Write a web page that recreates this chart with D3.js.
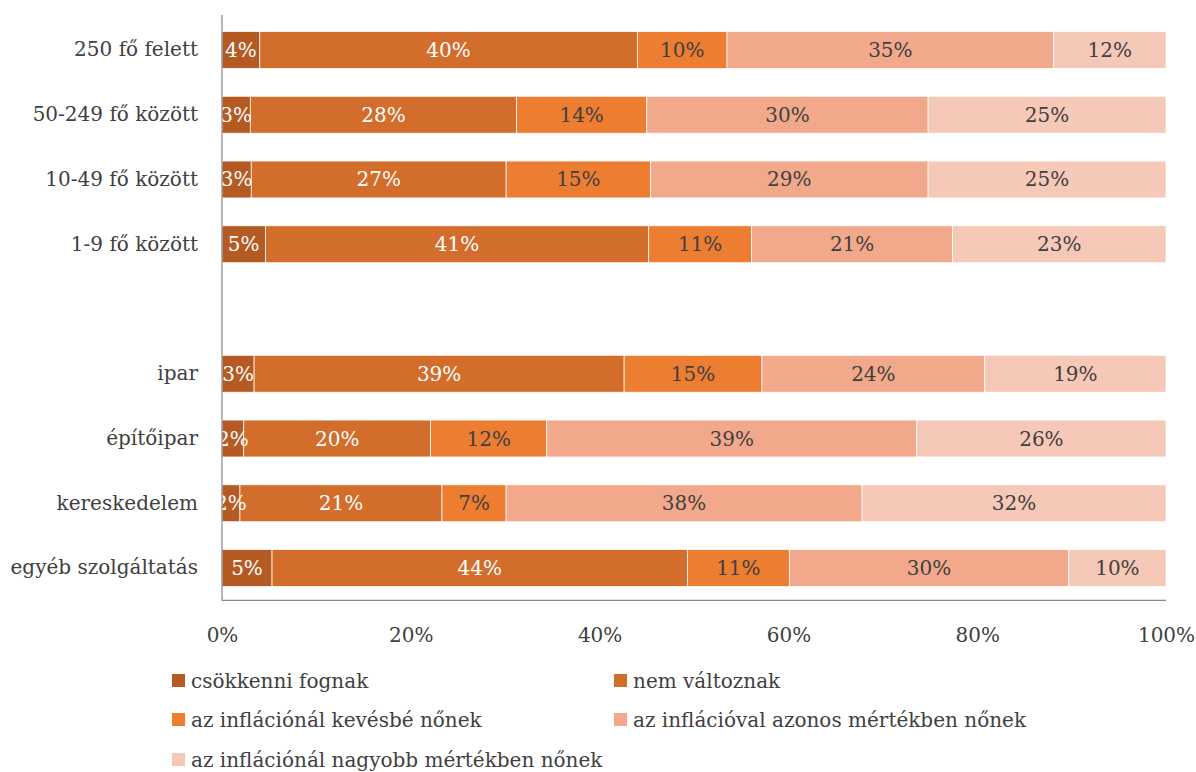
<!DOCTYPE html>
<html><head><meta charset="utf-8">
<script src="https://cdn.jsdelivr.net/npm/d3@7"></script>
<style>body{margin:0;background:#fff}svg{display:block}text{font-family:"DejaVu Serif",serif}</style>
</head><body><svg id="c" width="1196" height="772"></svg>
<script>
const categories = ["250 fő felett","50-249 fő között","10-49 fő között","1-9 fő között","","ipar","építőipar","kereskedelem","egyéb szolgáltatás"];
const seriesNames = ["csökkenni fognak","nem változnak","az inflációnál kevésbé nőnek","az inflációval azonos mértékben nőnek","az inflációnál nagyobb mértékben nőnek"];
const csokkenni = [4.0, 3.0, 3.1, 4.6, null, 3.4, 2.3, 1.9, 5.3];
const nemValtoznak = [40.0, 28.2, 27.0, 40.6, null, 39.2, 19.8, 21.4, 44.0];
const kevesbe = [9.5, 13.8, 15.3, 10.9, null, 14.6, 12.3, 6.8, 10.8];
const azonos = [34.6, 29.8, 29.4, 21.3, null, 23.6, 39.2, 37.7, 29.6];
const nagyobb = [11.9, 25.2, 25.2, 22.6, null, 19.2, 26.4, 32.2, 10.3];
const tickValues = [0, 20, 40, 60, 80, 100];
const colors = ["#B45A22","#D26D2B","#ED7D31","#F2A88A","#F6C8B7"];
const labelColors = ["#ffffff","#ffffff","#404040","#404040","#404040"];
const FS = 20;

const seriesValues = [csokkenni, nemValtoznak, kevesbe, azonos, nagyobb];
const rows = categories.map((c,i)=>{const o={cat:c, key:"k"+i}; seriesNames.forEach((s,j)=>o[s]=seriesValues[j][i]||0); o.empty=c===""; return o;});
const stack = d3.stack().keys(seriesNames)(rows);

const svg = d3.select("#c");
const pLeft=222, pRight=1166, pTop=17.6, pBottom=600.4;
const x = d3.scaleLinear().domain([0,100]).range([pLeft,pRight]);
const y = d3.scaleBand().domain(rows.map(r=>r.key)).range([pTop,pBottom]).paddingInner(0.43).paddingOuter(0.215);

svg.append("defs").append("clipPath").attr("id","pc").append("rect").attr("x",pLeft).attr("y",0).attr("width",pRight-pLeft+10).attr("height",pBottom);

const g = svg.append("g");
stack.forEach((layer,j)=>{
  const lg = g.append("g");
  lg.selectAll("rect").data(layer.filter(d=>!d.data.empty)).join("rect")
    .attr("x",d=>x(d[0])).attr("width",d=>x(d[1])-x(d[0]))
    .attr("y",d=>y(d.data.key)).attr("height",y.bandwidth())
    .attr("fill",colors[j]).attr("stroke","#fff").attr("stroke-width",0.75);
});
const lab = svg.append("g").attr("clip-path","url(#pc)");
stack.forEach((layer,j)=>{
  lab.selectAll(null).data(layer.filter(d=>!d.data.empty)).join("text")
    .attr("x",d=>(x(d[0])+x(d[1]))/2).attr("y",d=>y(d.data.key)+y.bandwidth()/2)
    .attr("dy","0.35em").attr("text-anchor","middle").attr("font-size",FS)
    .attr("fill",labelColors[j]).text(d=>Math.round(d[1]-d[0])+"%");
});

svg.append("line").attr("x1",pLeft).attr("x2",pLeft).attr("y1",15).attr("y2",pBottom).attr("stroke","#868686").attr("stroke-width",1.2);
svg.append("line").attr("x1",pLeft).attr("x2",pRight).attr("y1",pBottom).attr("y2",pBottom).attr("stroke","#868686").attr("stroke-width",1.2);

const yAxis = d3.axisLeft(y).tickSize(0).tickPadding(24).tickFormat(k=>rows.find(r=>r.key===k).cat);
const ya = svg.append("g").attr("transform",`translate(${pLeft},0)`).call(yAxis);
ya.select(".domain").remove();
ya.selectAll("text").attr("font-size",FS).attr("fill","#404040").style("font-family",'"DejaVu Serif",serif');

const xAxis = d3.axisBottom(x).tickValues(tickValues).tickSize(0).tickPadding(27).tickFormat(d=>d+"%");
const xa = svg.append("g").attr("transform",`translate(0,${pBottom})`).call(xAxis);
xa.select(".domain").remove();
xa.selectAll("text").attr("font-size",FS).attr("fill","#404040").style("font-family",'"DejaVu Serif",serif');

const legPos = [[172,681],[614,681],[172,720],[614,720],[172,760]];
const leg = svg.append("g");
seriesNames.forEach((s,j)=>{
  const [lx,ly]=legPos[j];
  leg.append("rect").attr("x",lx).attr("y",ly-7).attr("width",13).attr("height",13).attr("fill",colors[j]);
  leg.append("text").attr("x",lx+19).attr("y",ly).attr("dy","0.35em").attr("font-size",FS).attr("fill","#404040").text(s);
});
</script></body></html>
